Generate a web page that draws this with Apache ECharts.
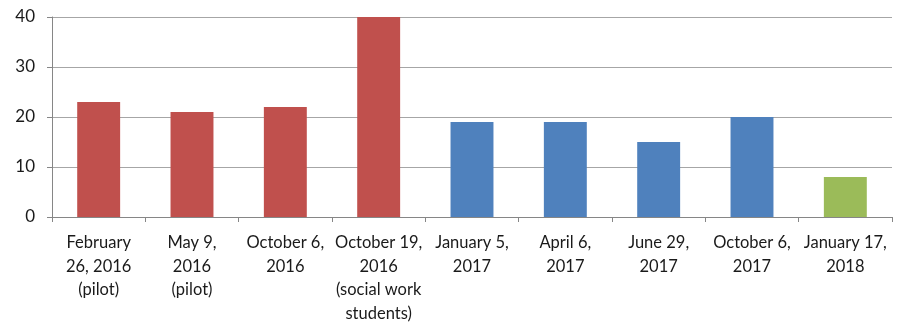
<!DOCTYPE html>
<html>
<head>
<meta charset="utf-8">
<title>Session attendance</title>
<script src="https://cdn.jsdelivr.net/npm/echarts@6/dist/echarts.min.js"></script>
<style>
  html, body { margin: 0; padding: 0; background: #fff; }
  #chart { width: 902px; height: 328px; }
</style>
</head>
<body>
<div id="chart"></div>
<script>
// Session dates (with notes) and the number of attendees at each
const categories = [
  'February\n26, 2016\n(pilot)',
  'May 9,\n2016\n(pilot)',
  'October 6,\n2016',
  'October 19,\n2016\n(social work\nstudents)',
  'January 5,\n2017',
  'April 6,\n2017',
  'June 29,\n2017',
  'October 6,\n2017',
  'January 17,\n2018'
];
const attendees = [23, 21, 22, 40, 19, 19, 15, 20, 8];
const yTicks = [0, 10, 20, 30, 40];

// Bars are coloured by the year of the session
const yearColors = { '2016': '#C0504D', '2017': '#4F81BD', '2018': '#9BBB59' };
function colorFor(label) {
  const m = label.match(/20\d\d/);
  return yearColors[m ? m[0] : '2017'];
}

const chart = echarts.init(document.getElementById('chart'));
chart.setOption({
  animation: false,
  textStyle: { fontFamily: 'Lato, "Open Sans", sans-serif' },
  grid: { left: 52, right: 10, top: 17, bottom: 111, containLabel: false },
  xAxis: {
    type: 'category',
    data: categories,
    axisLine: { lineStyle: { color: '#868686', width: 1 } },
    axisTick: { show: true, length: 5, alignWithLabel: false, lineStyle: { color: '#868686' } },
    axisLabel: {
      interval: 0,
      color: '#1a1a1a',
      fontSize: 16.5,
      lineHeight: 23.5,
      margin: 14
    },
    splitLine: { show: false }
  },
  yAxis: {
    type: 'value',
    min: yTicks[0],
    max: yTicks[yTicks.length - 1],
    interval: yTicks[1] - yTicks[0],
    axisLine: { show: true, lineStyle: { color: '#868686', width: 1 } },
    axisTick: { show: true, length: 5, lineStyle: { color: '#868686' } },
    axisLabel: { color: '#1a1a1a', fontSize: 17, margin: 17 },
    splitLine: { show: true, lineStyle: { color: '#a6a6a6', width: 1 } }
  },
  series: [{
    type: 'bar',
    data: attendees.map((v, i) => ({ value: v, itemStyle: { color: colorFor(categories[i]) } })),
    barWidth: '46%'
  }]
});
</script>
</body>
</html>
